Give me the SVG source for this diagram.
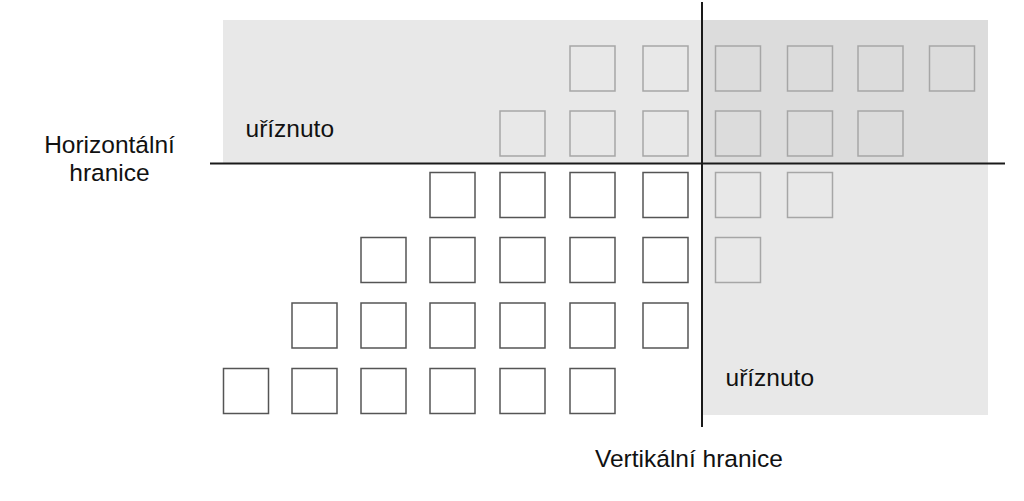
<svg xmlns="http://www.w3.org/2000/svg" width="1024" height="501" viewBox="0 0 1024 501">
<style>
.bg{fill:#ffffff}
.shade{fill:#e8e8e8}
.shade2{fill:#dcdcdc}
.box{fill:#ffffff;stroke:#555555;stroke-width:1.5}
.boxc{fill:none;stroke:#a6a6a6;stroke-width:1.5}
.line{stroke:#1a1a1a;stroke-width:2;fill:none}
.t{font-family:"Liberation Sans",Arial,Helvetica,sans-serif;font-size:24.5px;fill:#111111}
</style>
<rect class="bg" x="0" y="0" width="1024" height="501"/>
<g id="cut-regions">
<rect class="shade" x="223" y="20" width="479" height="143"/>
<rect class="shade" x="702" y="163" width="286" height="252"/>
<rect class="shade2" x="702" y="20" width="286" height="143"/>
</g>
<g id="boxes-visible">
<rect class="box" x="430" y="172.5" width="45" height="45"/>
<rect class="box" x="500" y="172.5" width="45" height="45"/>
<rect class="box" x="570" y="172.5" width="45" height="45"/>
<rect class="box" x="643" y="172.5" width="45" height="45"/>
<rect class="box" x="361" y="237.5" width="45" height="45"/>
<rect class="box" x="430" y="237.5" width="45" height="45"/>
<rect class="box" x="500" y="237.5" width="45" height="45"/>
<rect class="box" x="570" y="237.5" width="45" height="45"/>
<rect class="box" x="643" y="237.5" width="45" height="45"/>
<rect class="box" x="292" y="303" width="45" height="45"/>
<rect class="box" x="361" y="303" width="45" height="45"/>
<rect class="box" x="430" y="303" width="45" height="45"/>
<rect class="box" x="500" y="303" width="45" height="45"/>
<rect class="box" x="570" y="303" width="45" height="45"/>
<rect class="box" x="643" y="303" width="45" height="45"/>
<rect class="box" x="223.5" y="368.5" width="45" height="45"/>
<rect class="box" x="292" y="368.5" width="45" height="45"/>
<rect class="box" x="361" y="368.5" width="45" height="45"/>
<rect class="box" x="430" y="368.5" width="45" height="45"/>
<rect class="box" x="500" y="368.5" width="45" height="45"/>
<rect class="box" x="570" y="368.5" width="45" height="45"/>
</g>
<g id="boxes-cut">
<rect class="boxc" x="570" y="46" width="45" height="45"/>
<rect class="boxc" x="643" y="46" width="45" height="45"/>
<rect class="boxc" x="715.5" y="46" width="45" height="45"/>
<rect class="boxc" x="787.5" y="46" width="45" height="45"/>
<rect class="boxc" x="858" y="46" width="45" height="45"/>
<rect class="boxc" x="929.5" y="46" width="45" height="45"/>
<rect class="boxc" x="500" y="111" width="45" height="45"/>
<rect class="boxc" x="570" y="111" width="45" height="45"/>
<rect class="boxc" x="643" y="111" width="45" height="45"/>
<rect class="boxc" x="715.5" y="111" width="45" height="45"/>
<rect class="boxc" x="787.5" y="111" width="45" height="45"/>
<rect class="boxc" x="858" y="111" width="45" height="45"/>
<rect class="boxc" x="715.5" y="172.5" width="45" height="45"/>
<rect class="boxc" x="787.5" y="172.5" width="45" height="45"/>
<rect class="boxc" x="715.5" y="237.5" width="45" height="45"/>
</g>
<g id="connectors">
<line class="line" x1="210" y1="163.5" x2="1005" y2="163.5"/>
<line class="line" x1="702" y1="2" x2="702" y2="427"/>
</g>
<g id="labels">
<text class="t" x="245.5" y="137">uříznuto</text>
<text class="t" x="725.5" y="386">uříznuto</text>
<text class="t" x="109.5" y="153" text-anchor="middle">Horizontální</text>
<text class="t" x="109.5" y="181" text-anchor="middle">hranice</text>
<text class="t" x="595" y="467">Vertikální hranice</text>
</g>
</svg>
